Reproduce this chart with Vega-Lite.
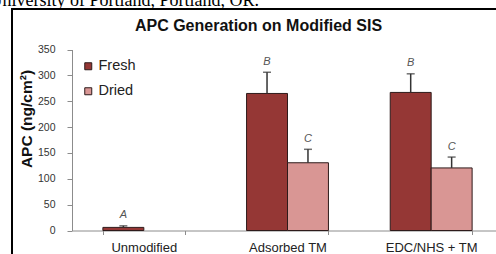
{
  "$schema": "https://vega.github.io/schema/vega-lite/v6.json",
  "autosize": "none",
  "padding": {"left": 12, "top": 9, "right": 0, "bottom": 0},
  "width": 486,
  "height": 248,
  "background": "white",
  "data": {
    "values": [
      {"cat": "Unmodified", "series": "Fresh", "value": 6, "hi": 9, "label": "A"},
      {"cat": "Adsorbed TM", "series": "Fresh", "value": 265, "hi": 306, "label": "B"},
      {"cat": "Adsorbed TM", "series": "Dried", "value": 131, "hi": 157, "label": "C"},
      {"cat": "EDC/NHS + TM", "series": "Fresh", "value": 267, "hi": 303, "label": "B"},
      {"cat": "EDC/NHS + TM", "series": "Dried", "value": 121, "hi": 142, "label": "C"}
    ]
  },
  "resolve": {"axis": {"x": "independent", "y": "independent"}},
  "layer": [
    {
      "mark": {"type": "bar", "stroke": "#2e1b1b", "strokeWidth": 1},
      "encoding": {
        "x": {
          "field": "cat", "type": "nominal", "sort": ["Unmodified", "Adsorbed TM", "EDC/NHS + TM"],
          "scale": {"range": [60, 491], "paddingInner": 0.43, "paddingOuter": 0.215},
          "axis": {"orient": "bottom", "offset": -26.5, "title": null, "labelAngle": 0, "labelFontSize": 13, "labelColor": "#222", "labelPadding": 7, "tickBand": "extent", "tickSize": 4, "tickColor": "#8c8c8c", "domainColor": "#8c8c8c", "labelBaseline": "top"}
        },
        "xOffset": {"field": "series", "type": "nominal", "scale": {"domain": ["Fresh", "Dried"], "paddingInner": 0, "paddingOuter": 0}},
        "y": {
          "field": "value", "type": "quantitative",
          "scale": {"domain": [0, 350], "range": [221.5, 40.5], "nice": false},
          "axis": {"orient": "left", "offset": -60, "values": [0, 50, 100, 150, 200, 250, 300, 350], "title": "APC (ng/cm²)", "titleFontSize": 15.5, "titleFontWeight": "bold", "titleColor": "#111", "titleX": -46, "titleY": 109.5, "titleAngle": -90, "titleAlign": "center", "titleBaseline": "middle", "labelFontSize": 10.5, "labelColor": "#333", "labelPadding": 12, "tickSize": 5, "tickColor": "#8c8c8c", "domainColor": "#8c8c8c"}
        },
        "color": {
          "field": "series", "type": "nominal",
          "scale": {"domain": ["Fresh", "Dried"], "range": ["#953735", "#d99694"]},
          "legend": {"orient": "none", "legendX": 69, "legendY": 50, "title": null, "padding": 0, "symbolType": "square", "symbolSize": 49, "symbolStrokeColor": "#2e1b1b", "symbolStrokeWidth": 1, "symbolOpacity": 1, "labelFontSize": 14.5, "labelColor": "#222", "labelOffset": 3, "rowPadding": 10}
        }
      }
    },
    {
      "mark": {"type": "rule", "color": "#333", "strokeWidth": 1.5},
      "encoding": {
        "x": {
          "field": "cat", "type": "nominal", "sort": ["Unmodified", "Adsorbed TM", "EDC/NHS + TM"],
          "axis": {"orient": "top", "title": "University of Portland, Portland, OR.", "labels": false, "ticks": false, "domain": false, "titleFont": "Liberation Serif", "titleFontSize": 18, "titleFontWeight": "normal", "titleColor": "#000", "titleX": -23, "titleY": -4, "titleAlign": "left", "titleBaseline": "alphabetic", "titleAngle": 0}
        },
        "xOffset": {"field": "series", "type": "nominal"},
        "y": {
          "field": "value", "type": "quantitative",
          "axis": {"orient": "right", "title": "APC Generation on Modified SIS", "labels": false, "ticks": false, "domain": false, "titleFontSize": 16, "titleFontWeight": "bold", "titleColor": "#111", "titleX": -240, "titleY": 21, "titleAngle": 0, "titleAlign": "center", "titleBaseline": "alphabetic"}
        },
        "y2": {"field": "hi"}
      }
    },
    {
      "mark": {"type": "tick", "color": "#333", "size": 8, "thickness": 1.5},
      "encoding": {
        "x": {"field": "cat", "type": "nominal", "sort": ["Unmodified", "Adsorbed TM", "EDC/NHS + TM"], "axis": null},
        "xOffset": {"field": "series", "type": "nominal"},
        "y": {"field": "hi", "type": "quantitative", "axis": null}
      }
    },
    {
      "mark": {"type": "text", "color": "#555", "fontSize": 11, "fontStyle": "italic", "dy": -7.5, "baseline": "alphabetic"},
      "encoding": {
        "x": {"field": "cat", "type": "nominal", "sort": ["Unmodified", "Adsorbed TM", "EDC/NHS + TM"], "axis": null},
        "xOffset": {"field": "series", "type": "nominal"},
        "y": {"field": "hi", "type": "quantitative", "axis": null},
        "text": {"field": "label"}
      }
    }
  ],
  "config": {
    "font": "Liberation Sans",
    "view": {"stroke": "#000", "strokeWidth": 2},
    "axis": {"grid": false}
  }
}
